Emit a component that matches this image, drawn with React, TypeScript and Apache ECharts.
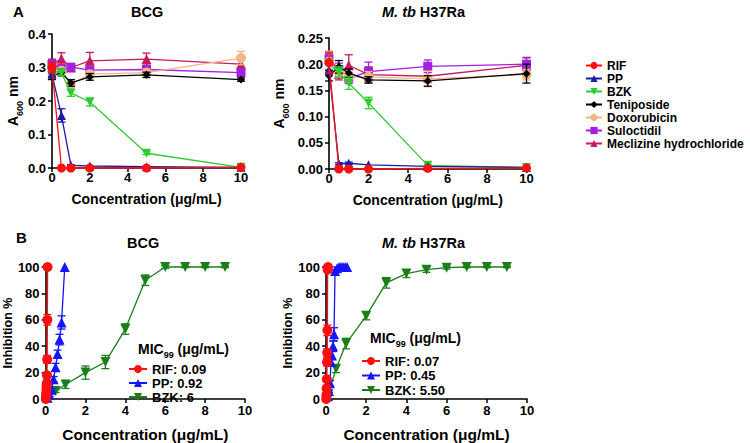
import React, { useEffect, useRef } from "react";
import * as echarts from "echarts";

const FONT = "'Liberation Sans', Arial, sans-serif";

// ---------- Panel A data (A600 nm) ----------
const concA = [0, 0.5, 1, 2, 5, 10];

const bcgRif = [0.3, 0, 0, 0, 0, 0.002];
const bcgRifErr = [0.015, 0, 0, 0, 0, 0];
const bcgPp = [0.28, 0.157, 0.008, 0.006, 0.004, 0.002];
const bcgPpErr = [0.01, 0.02, 0.002, 0, 0, 0];
const bcgBzk = [0.29, 0.284, 0.224, 0.197, 0.044, 0.002];
const bcgBzkErr = [0.01, 0.008, 0.01, 0.012, 0.004, 0];
const bcgTen = [0.274, 0.285, 0.254, 0.272, 0.278, 0.264];
const bcgTenErr = [0.01, 0.01, 0.01, 0.01, 0.008, 0.005];
const bcgDox = [0.29, 0.29, 0.25, 0.28, 0.285, 0.328];
const bcgDoxErr = [0.01, 0.01, 0.01, 0.01, 0.01, 0.02];
const bcgSul = [0.31, 0.296, 0.301, 0.292, 0.294, 0.285];
const bcgSulErr = [0.012, 0.01, 0.01, 0.01, 0.01, 0.01];
const bcgMec = [0.31, 0.326, 0.3, 0.32, 0.325, 0.31];
const bcgMecErr = [0.015, 0.018, 0.01, 0.025, 0.018, 0.02];

const tbRif = [0.203, 0, 0, 0, 0.001, 0.002];
const tbRifErr = [0.02, 0, 0, 0, 0, 0];
const tbPp = [0.19, 0.01, 0.011, 0.008, 0.005, 0.003];
const tbPpErr = [0.01, 0.002, 0.002, 0, 0, 0];
const tbBzk = [0.2, 0.185, 0.164, 0.126, 0.007, 0.003];
const tbBzkErr = [0.01, 0.01, 0.012, 0.011, 0.002, 0];
const tbTen = [0.178, 0.195, 0.183, 0.17, 0.168, 0.182];
const tbTenErr = [0.01, 0.012, 0.008, 0.006, 0.01, 0.018];
const tbDox = [0.205, 0.185, 0.176, 0.176, 0.172, 0.18];
const tbDoxErr = [0.02, 0.01, 0.01, 0.01, 0.015, 0.01];
const tbSul = [0.21, 0.19, 0.173, 0.186, 0.196, 0.2];
const tbSulErr = [0.01, 0.012, 0.01, 0.018, 0.012, 0.012];
const tbMec = [0.21, 0.182, 0.198, 0.18, 0.177, 0.198];
const tbMecErr = [0.01, 0.012, 0.02, 0.015, 0.012, 0.015];

// ---------- Panel B data (Inhibition %) ----------
const bcgRifX = [0.01, 0.02, 0.03, 0.04, 0.05, 0.06, 0.07, 0.08, 0.09, 0.1];
const bcgRifY = [0, 2, 4, 7, 10, 12, 18, 30, 60, 100];
const bcgRifE = [0, 0, 0, 1, 1, 1, 2, 3, 4, 0];
const bcgPpX = [0.1, 0.2, 0.3, 0.4, 0.5, 0.6, 0.7, 0.8, 0.96];
const bcgPpY = [1, 3, 7, 15, 24, 34, 45, 58, 100];
const bcgPpE = [0, 1, 1, 2, 3, 3, 4, 5, 0];
const bcgBzkX = [0.5, 1, 2, 3, 4, 5, 6, 7, 8, 9];
const bcgBzkY = [6, 11, 20, 28, 53, 90, 100, 100, 100, 100];
const bcgBzkE = [1, 3, 5, 5, 4, 4, 1, 0.5, 0.5, 0.5];

const tbRifX = [0.01, 0.02, 0.03, 0.04, 0.05, 0.06, 0.07, 0.08, 0.1];
const tbRifY = [0, 3, 8, 15, 28, 35, 52, 98, 100];
const tbRifE = [0, 0, 1, 1, 3, 3, 4, 1, 0];
const tbPpX = [0.1, 0.15, 0.2, 0.25, 0.3, 0.35, 0.4, 0.45, 0.55, 0.65, 0.75, 0.85, 0.95, 1.05];
const tbPpY = [2, 6, 12, 28, 33, 40, 49, 97, 99, 100, 100, 100, 100, 100];
const tbPpE = [0, 1, 2, 3, 3, 4, 5, 1, 1, 0, 0, 0, 0, 0];
const tbBzkX = [0.1, 0.5, 1, 2, 3, 4, 5, 6, 7, 8, 9];
const tbBzkY = [3, 23, 42, 63, 88, 95, 98, 99.5, 100, 100, 100];
const tbBzkE = [1, 3, 4, 3, 4, 3, 2, 1, 0.5, 0.5, 0.5];

const legendA = ["RIF", "PP", "BZK", "Teniposide", "Doxorubicin", "Suloctidil", "Meclizine hydrochloride"];
const legendBcg = ["RIF: 0.09", "PP: 0.92", "BZK: 6"];
const legendTb = ["RIF: 0.07", "PP: 0.45", "BZK: 5.50"];

const C = {
  rif: "#ff1010",
  ppTop: "#1c1ca8",
  ppBot: "#1515ff",
  bzkTop: "#2ecc2e",
  bzkBot: "#1a7f1a",
  ten: "#000000",
  dox: "#f2b585",
  sul: "#a41fe0",
  mec: "#c41a5c",
};

function errSeries(id: string, axis: number, xs: number[], ys: number[], es: number[], color: string, z: number) {
  return {
    type: "custom",
    name: id + "-err",
    xAxisIndex: axis,
    yAxisIndex: axis,
    silent: true,
    z,
    data: xs.map((x, i) => [x, ys[i], es[i]]),
    encode: { x: 0, y: 1 },
    renderItem: (params: any, api: any) => {
      const x = api.value(0);
      const y = api.value(1);
      const e = api.value(2);
      if (!e) return null;
      const t = api.coord([x, y + e]);
      const b = api.coord([x, y - e]);
      const hw = 4;
      const st = { stroke: color, lineWidth: 1.3 };
      return {
        type: "group",
        children: [
          { type: "line", shape: { x1: t[0], y1: t[1], x2: b[0], y2: b[1] }, style: st },
          { type: "line", shape: { x1: t[0] - hw, y1: t[1], x2: t[0] + hw, y2: t[1] }, style: st },
          { type: "line", shape: { x1: b[0] - hw, y1: b[1], x2: b[0] + hw, y2: b[1] }, style: st },
        ],
      };
    },
  };
}

function lineSeries(name: string, axis: number, xs: number[], ys: number[], color: string, symbol: string, size: number, z: number, rotate = 0) {
  return {
    type: "line",
    name,
    xAxisIndex: axis,
    yAxisIndex: axis,
    data: xs.map((x, i) => [x, ys[i]]),
    symbol,
    symbolSize: size,
    symbolRotate: rotate,
    showAllSymbol: true,
    clip: false,
    z,
    lineStyle: { color, width: 1.3 },
    itemStyle: { color },
  };
}

function pair(name: string, axis: number, xs: number[], ys: number[], es: number[], color: string, symbol: string, size: number, z: number, rotate = 0) {
  return [errSeries(name + axis, axis, xs, ys, es, color, z - 0.5), lineSeries(name, axis, xs, ys, color, symbol, size, z, rotate)];
}

const axisCommon = {
  axisLine: { show: true, onZero: false, lineStyle: { color: "#000", width: 1.6 } },
  axisTick: { show: true, length: 4, inside: false, lineStyle: { color: "#000", width: 1.5 } },
  splitLine: { show: false },
};

function xAx(grid: number, nameFs: number, margin: number, gap: number) {
  return {
    type: "value",
    gridIndex: grid,
    min: 0,
    max: 10,
    interval: 2,
    ...axisCommon,
    axisLabel: { color: "#000", fontWeight: "bold", fontSize: 13, fontFamily: FONT, margin },
    name: "Concentration (\u03bcg/mL)",
    nameLocation: "middle",
    nameGap: gap,
    nameTextStyle: { color: "#000", fontWeight: "bold", fontSize: nameFs, fontFamily: FONT },
  };
}

function yAx(grid: number, max: number, interval: number, digits: number, name: string, rich: any, gap: number, nameFs: number) {
  return {
    type: "value",
    gridIndex: grid,
    min: 0,
    max,
    interval,
    ...axisCommon,
    axisLabel: {
      color: "#000",
      fontWeight: "bold",
      fontSize: 13,
      fontFamily: FONT,
      margin: 6,
      formatter: (v: number) => v.toFixed(digits),
    },
    name,
    nameLocation: "middle",
    nameRotate: 90,
    nameGap: gap,
    nameTextStyle: { color: "#000", fontWeight: "bold", fontSize: nameFs, fontFamily: FONT, rich },
  };
}

const richA = {
  a: { fontSize: 14, fontWeight: "bold", fontFamily: FONT, color: "#000", lineHeight: 18, verticalAlign: "top" },
  s: { fontSize: 9, fontWeight: "bold", fontFamily: FONT, color: "#000", lineHeight: 18, verticalAlign: "bottom", padding: [4, 0, 0, 0] },
};

export default function App() {
  const ref = useRef<HTMLDivElement>(null);
  useEffect(() => {
    document.body.style.margin = "0";
    const chart = echarts.init(ref.current!, undefined, { renderer: "svg" });
    const series: any[] = [
      ...pair("RIF", 0, concA, bcgRif, bcgRifErr, C.rif, "circle", 9, 20),
      ...pair("PP", 0, concA, bcgPp, bcgPpErr, C.ppTop, "triangle", 9, 19),
      ...pair("BZK", 0, concA, bcgBzk, bcgBzkErr, C.bzkTop, "triangle", 9, 18, 180),
      ...pair("Teniposide", 0, concA, bcgTen, bcgTenErr, C.ten, "diamond", 8, 17),
      ...pair("Doxorubicin", 0, concA, bcgDox, bcgDoxErr, C.dox, "circle", 10, 16),
      ...pair("Suloctidil", 0, concA, bcgSul, bcgSulErr, C.sul, "rect", 9, 15),
      ...pair("Meclizine hydrochloride", 0, concA, bcgMec, bcgMecErr, C.mec, "triangle", 10, 14),
      ...pair("RIF", 1, concA, tbRif, tbRifErr, C.rif, "circle", 9, 20),
      ...pair("PP", 1, concA, tbPp, tbPpErr, C.ppTop, "triangle", 9, 19),
      ...pair("BZK", 1, concA, tbBzk, tbBzkErr, C.bzkTop, "triangle", 9, 18, 180),
      ...pair("Teniposide", 1, concA, tbTen, tbTenErr, C.ten, "diamond", 8, 17),
      ...pair("Doxorubicin", 1, concA, tbDox, tbDoxErr, C.dox, "circle", 10, 16),
      ...pair("Suloctidil", 1, concA, tbSul, tbSulErr, C.sul, "rect", 9, 15),
      ...pair("Meclizine hydrochloride", 1, concA, tbMec, tbMecErr, C.mec, "triangle", 10, 14),
      ...pair(legendBcg[0], 2, bcgRifX, bcgRifY, bcgRifE, C.rif, "circle", 10, 20),
      ...pair(legendBcg[1], 2, bcgPpX, bcgPpY, bcgPpE, C.ppBot, "triangle", 10, 19),
      ...pair(legendBcg[2], 2, bcgBzkX, bcgBzkY, bcgBzkE, C.bzkBot, "triangle", 10, 18, 180),
      ...pair(legendTb[0], 3, tbRifX, tbRifY, tbRifE, C.rif, "circle", 10, 20),
      ...pair(legendTb[1], 3, tbPpX, tbPpY, tbPpE, C.ppBot, "triangle", 10, 19),
      ...pair(legendTb[2], 3, tbBzkX, tbBzkY, tbBzkE, C.bzkBot, "triangle", 10, 18, 180),
    ];

    const legText = (fs: number, lh: number) => ({ color: "#000", fontWeight: "bold", fontSize: fs, fontFamily: FONT, lineHeight: lh });

    const titleStyle = (x: number, y: number, text: string, rich?: any) => ({
      type: "text",
      left: x,
      top: y,
      style: { text, fill: "#000", font: `bold 14.5px ${FONT}`, rich },
    });

    const micRich = {
      m: { fontSize: 14, fontWeight: "bold", fontFamily: FONT, color: "#000", lineHeight: 17, verticalAlign: "top" },
      s: { fontSize: 9, fontWeight: "bold", fontFamily: FONT, color: "#000", lineHeight: 17, verticalAlign: "bottom" },
    };
    const titleRich = {
      i: { fontSize: 14.5, fontWeight: "bold", fontStyle: "italic", fontFamily: FONT, color: "#000" },
      n: { fontSize: 14.5, fontWeight: "bold", fontFamily: FONT, color: "#000" },
    };

    chart.setOption({
      animation: false,
      backgroundColor: "#fff",
      grid: [
        { left: 52, top: 34, width: 189, height: 134 },
        { left: 329, top: 38, width: 197.5, height: 131 },
        { left: 45, top: 267, width: 200, height: 133 },
        { left: 326, top: 267, width: 201, height: 133 },
      ],
      xAxis: [xAx(0, 14, 3, 24), xAx(1, 14, 3, 24), xAx(2, 15.5, 5, 27), xAx(3, 15.5, 5, 27)],
      yAxis: [
        yAx(0, 0.4, 0.1, 1, "{a|A}{s|600}{a| nm}", richA, 28, 14),
        yAx(1, 0.25, 0.05, 2, "{a|A}{s|600}{a| nm}", richA, 39, 14),
        yAx(2, 100, 20, 0, "Inhibition %", undefined, 30, 12.5),
        yAx(3, 100, 20, 0, "Inhibition %", undefined, 32, 12.5),
      ],
      legend: [
        {
          data: legendA,
          orient: "vertical",
          left: 580,
          top: 54,
          itemWidth: 16,
          itemHeight: 9,
          itemGap: 0,
          textStyle: legText(12, 13),
          selectedMode: false,
        },
        {
          data: legendBcg,
          orient: "vertical",
          left: 123,
          top: 357,
          itemWidth: 18,
          itemHeight: 10,
          itemGap: 0,
          textStyle: legText(13, 14),
          selectedMode: false,
        },
        {
          data: legendTb,
          orient: "vertical",
          left: 356,
          top: 349,
          itemWidth: 18,
          itemHeight: 10,
          itemGap: 0.5,
          textStyle: legText(13, 14),
          selectedMode: false,
        },
      ],
      graphic: [
        { type: "text", left: 13, top: 4, style: { text: "A", fill: "#000", font: `bold 15px ${FONT}` } },
        { type: "text", left: 16, top: 230, style: { text: "B", fill: "#000", font: `bold 15px ${FONT}` } },
        titleStyle(131, 4, "BCG"),
        titleStyle(382, 4, "{i|M. tb} {n|H37Ra}", titleRich),
        titleStyle(127, 235, "BCG"),
        titleStyle(382, 235, "{i|M. tb} {n|H37Ra}", titleRich),
        { type: "text", left: 138, top: 342, style: { text: "{m|MIC}{s|99}{m| (\u03bcg/mL)}", rich: micRich } },
        { type: "text", left: 370, top: 331, style: { text: "{m|MIC}{s|99}{m| (\u03bcg/mL)}", rich: micRich } },
      ],
      series,
    });
    return () => chart.dispose();
  }, []);
  return <div ref={ref} style={{ width: 750, height: 443, position: "absolute", left: 0, top: 0 }} />;
}
